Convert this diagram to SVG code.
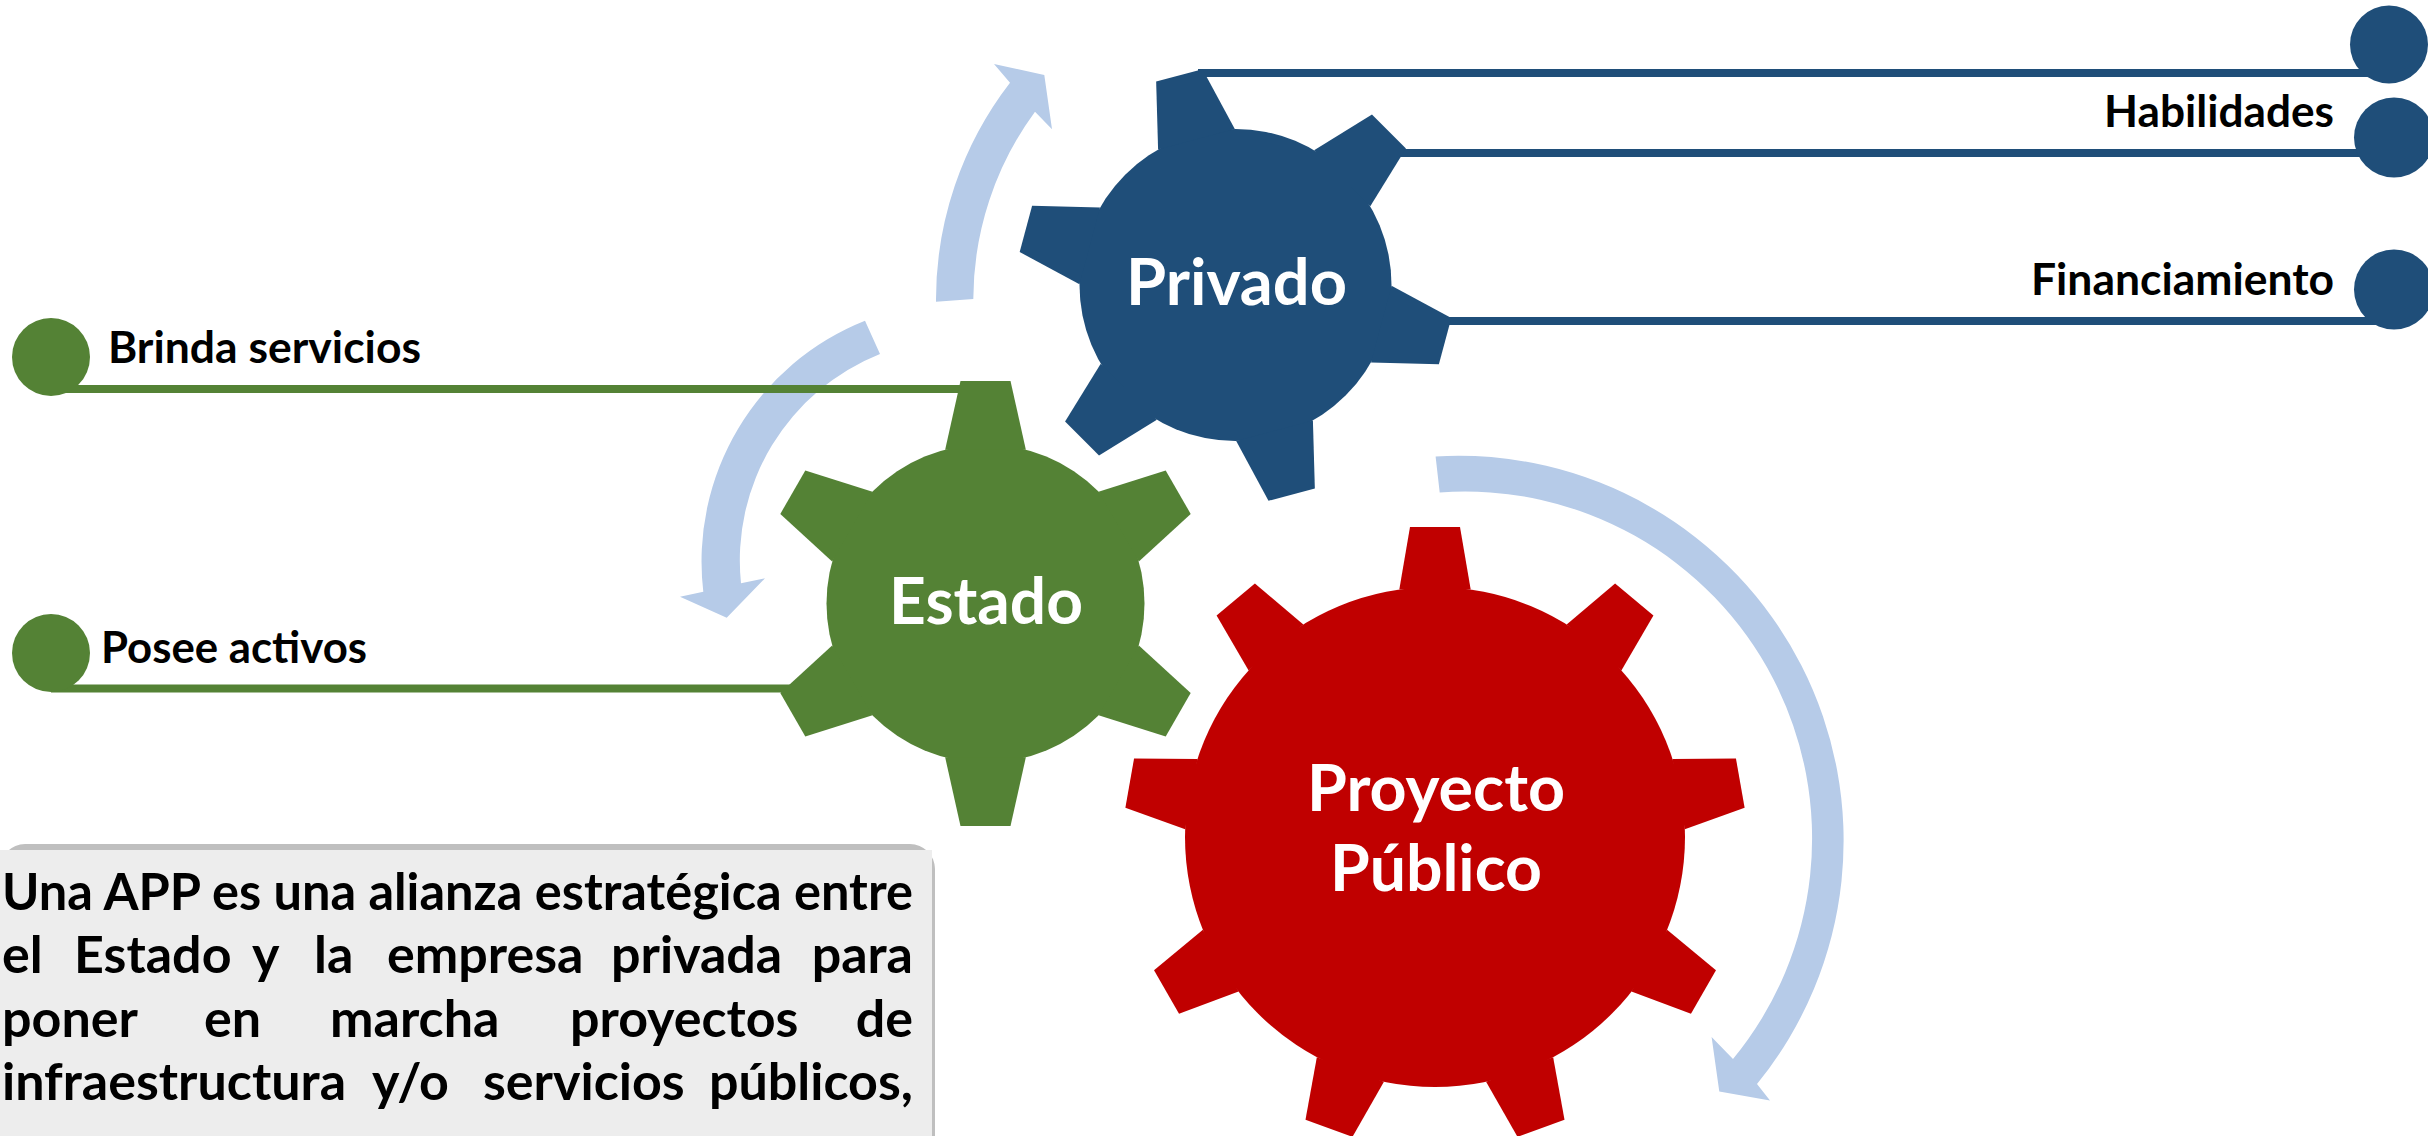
<svg xmlns="http://www.w3.org/2000/svg" xmlns:xlink="http://www.w3.org/1999/xlink" width="2428" height="1136" viewBox="0 0 2428 1136">
<style>
.lbl{font-family:Lato,Carlito,"Liberation Sans",sans-serif;font-weight:bold;fill:#000;font-size:43px}
.gl{font-family:Lato,Carlito,"Liberation Sans",sans-serif;font-weight:bold;fill:#fff;font-size:65px;text-anchor:middle}
.box{font-family:Lato,Carlito,"Liberation Sans",sans-serif;font-weight:bold;fill:#000;font-size:52px}
.end{text-anchor:end}
.arrow{fill:#B6CBE8}
.blue{fill:#1F4E79}
.green{fill:#548235}
.red{fill:#C00000}
.bl{stroke:#1F4E79;stroke-width:8;fill:none}
.gr{stroke:#548235;stroke-width:8;fill:none}
</style>
<defs>
<polygon id="toothE" points="-40.35,-153.8 -25,-222.5 25,-222.5 40.35,-153.8"/>
<polygon id="toothP" points="-39.7,-150.9 -24,-217 24,-217 39.7,-150.9"/>
<polygon id="toothR" points="-35.7,-247.4 -25,-310 25,-310 35.7,-247.4"/>
</defs>
<rect width="2428" height="1136" fill="#fff"/>

<g id="cycle-arrows">
<path class="arrow" d="M936 301.7 A355 355 0 0 1 1010 82.7 L994 64 L1044.3 75 L1052 129.3 L1035 111.7 A318 318 0 0 0 973.3 299 Z"/>
<path class="arrow" d="M865 320.7 A259 259 0 0 0 703.3 591.7 L680 596.7 L726.7 617.7 L765 578.3 L741 583.3 A222 222 0 0 1 880 354 Z"/>
<path class="arrow" d="M1435.6 456.4 A385 385 0 0 1 1757 1084 L1770 1100.4 L1719.3 1091.6 L1711.6 1037 L1733 1059 A347 347 0 0 0 1439.7 492.4 Z"/>
</g>

<g id="connectors">
<line class="bl" x1="1198" y1="73" x2="2389" y2="73"/>
<line class="bl" x1="1395" y1="153" x2="2394" y2="153"/>
<line class="bl" x1="1445" y1="321" x2="2394" y2="321"/>
<line class="gr" x1="51" y1="389" x2="965" y2="389"/>
<line class="gr" x1="51" y1="688.5" x2="800" y2="688.5"/>
</g>

<g id="node-privado" class="blue">
<g transform="translate(1235.5,285)">
<circle r="156"/>
<use xlink:href="#toothP" transform="rotate(-15)"/>
<use xlink:href="#toothP" transform="rotate(45)"/>
<use xlink:href="#toothP" transform="rotate(105)"/>
<use xlink:href="#toothP" transform="rotate(165)"/>
<use xlink:href="#toothP" transform="rotate(225)"/>
<use xlink:href="#toothP" transform="rotate(285)"/>
</g>
<text class="gl" x="1236.5" y="305" textLength="221" lengthAdjust="spacingAndGlyphs">Privado</text>
</g>

<g id="node-estado" class="green">
<g transform="translate(985.5,603.5)">
<circle r="159"/>
<use xlink:href="#toothE"/>
<use xlink:href="#toothE" transform="rotate(60)"/>
<use xlink:href="#toothE" transform="rotate(120)"/>
<use xlink:href="#toothE" transform="rotate(180)"/>
<use xlink:href="#toothE" transform="rotate(240)"/>
<use xlink:href="#toothE" transform="rotate(300)"/>
</g>
<text class="gl" x="986" y="624" textLength="194" lengthAdjust="spacingAndGlyphs">Estado</text>
</g>

<g id="node-proyecto" class="red">
<g transform="translate(1435,837)">
<circle r="250"/>
<use xlink:href="#toothR"/>
<use xlink:href="#toothR" transform="rotate(40)"/>
<use xlink:href="#toothR" transform="rotate(80)"/>
<use xlink:href="#toothR" transform="rotate(120)"/>
<use xlink:href="#toothR" transform="rotate(160)"/>
<use xlink:href="#toothR" transform="rotate(200)"/>
<use xlink:href="#toothR" transform="rotate(240)"/>
<use xlink:href="#toothR" transform="rotate(280)"/>
<use xlink:href="#toothR" transform="rotate(320)"/>
</g>
<text class="gl" x="1436" y="811" textLength="258" lengthAdjust="spacingAndGlyphs">Proyecto</text>
<text class="gl" x="1436" y="891" textLength="212" lengthAdjust="spacingAndGlyphs">Público</text>
</g>

<g id="node-top-dot">
<circle class="blue" cx="2389" cy="44.5" r="39"/>
</g>
<g id="node-habilidades">
<circle class="blue" cx="2394" cy="137.5" r="40"/>
<text class="lbl" x="2334" y="127" text-anchor="end" textLength="230" lengthAdjust="spacingAndGlyphs">Habilidades</text>
</g>
<g id="node-financiamiento">
<circle class="blue" cx="2394" cy="289.5" r="40"/>
<text class="lbl" x="2334" y="295" text-anchor="end" textLength="303" lengthAdjust="spacingAndGlyphs">Financiamiento</text>
</g>
<g id="node-brinda">
<circle class="green" cx="51" cy="357" r="39"/>
<text class="lbl" x="108" y="363" textLength="313" lengthAdjust="spacingAndGlyphs">Brinda servicios</text>
</g>
<g id="node-posee">
<circle class="green" cx="51" cy="653" r="39"/>
<text class="lbl" x="101" y="663" textLength="266" lengthAdjust="spacingAndGlyphs">Posee activos</text>
</g>

<g id="node-definicion">
<rect x="0" y="844" width="935" height="330" rx="25" fill="#BFBFBF"/>
<rect x="0" y="850" width="932" height="300" fill="#EDEDED"/>
<text class="box" x="2" y="910" textLength="911" lengthAdjust="spacingAndGlyphs">Una APP es una alianza estratégica entre</text>
<text class="box" y="973"><tspan x="2">el</tspan><tspan x="74">Estado</tspan><tspan x="252">y</tspan><tspan x="314">la</tspan><tspan x="387">empresa</tspan><tspan x="611">privada</tspan><tspan class="end" x="913">para</tspan></text>
<text class="box" y="1037"><tspan x="2">poner</tspan><tspan x="204">en</tspan><tspan x="330">marcha</tspan><tspan x="570">proyectos</tspan><tspan class="end" x="913">de</tspan></text>
<text class="box" y="1100"><tspan x="2">infraestructura</tspan><tspan x="372">y/o</tspan><tspan x="483">servicios</tspan><tspan class="end" x="913">públicos,</tspan></text>
</g>
</svg>
